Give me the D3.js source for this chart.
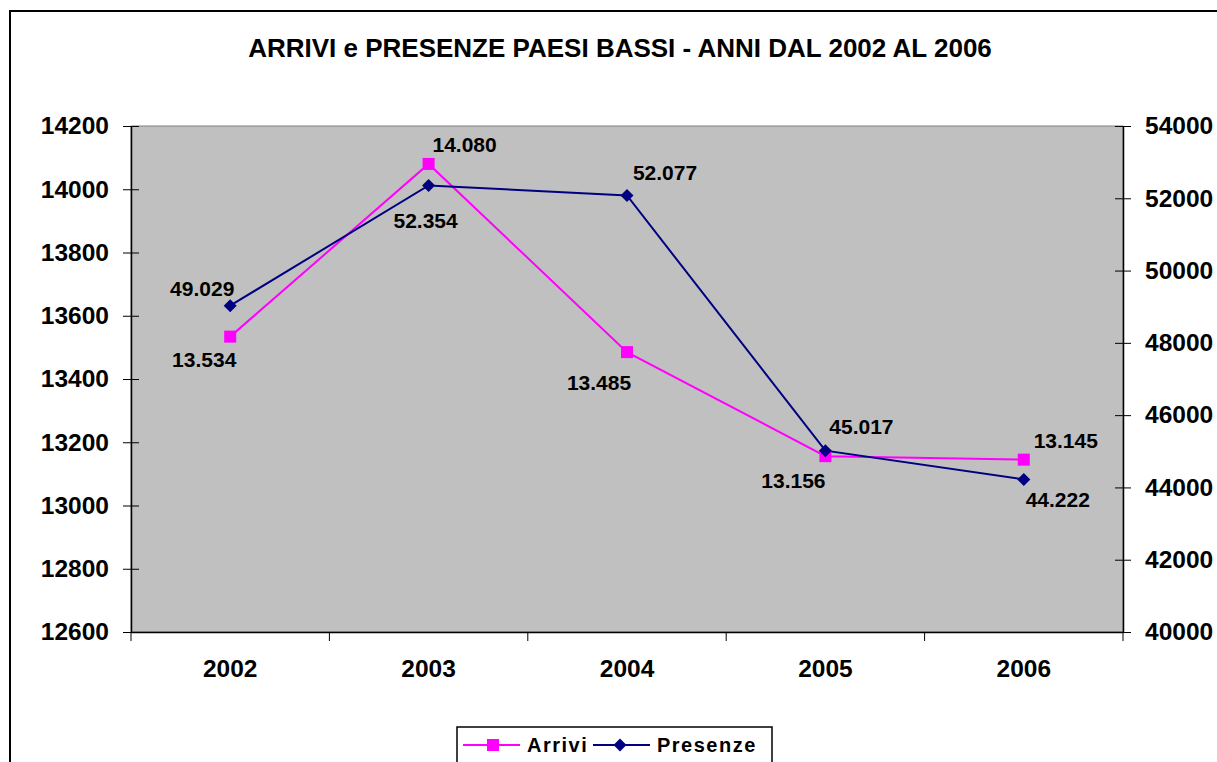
<!DOCTYPE html>
<html>
<head>
<meta charset="utf-8">
<script src="https://cdn.jsdelivr.net/npm/d3@7"></script>
<style>
  html, body { margin: 0; padding: 0; background: #fff; }
  svg { display: block; font-family: "Liberation Sans", Arial, sans-serif; font-weight: bold; }
</style>
</head>
<body>
<svg id="chart" width="1217" height="762"></svg>
<script>
// dati
const anni = ['2002', '2003', '2004', '2005', '2006'];
const arrivi = [13534, 14080, 13485, 13156, 13145];
const presenze = [49029, 52354, 52077, 45017, 44222];
const ticksSx = [12600, 12800, 13000, 13200, 13400, 13600, 13800, 14000, 14200];
const ticksDx = [40000, 42000, 44000, 46000, 48000, 50000, 52000, 54000];
const titolo = 'ARRIVI e PRESENZE PAESI BASSI - ANNI DAL 2002 AL 2006';

// posizione etichette (dx, dy) rispetto al punto
const offArrivi = [[-26, 30], [36, -12], [-28, 38], [-32, 32], [42, -12]];
const offPresenze = [[-28, -10], [-3, 43], [38, -16], [36, -17], [34, 28]];

const M = { left: 131, right: 1123, top: 126, bottom: 632 };
const svg = d3.select('#chart');

// cornice esterna
svg.append('rect').attr('x', 10).attr('y', 11).attr('width', 1230).attr('height', 800)
  .attr('fill', '#fff').attr('stroke', '#000').attr('stroke-width', 2);

svg.append('text').attr('x', 620).attr('y', 57).attr('text-anchor', 'middle')
  .attr('font-size', 26).text(titolo);

const x = d3.scaleBand().domain(anni).range([M.left, M.right]);
const yL = d3.scaleLinear().domain([12600, 14200]).range([M.bottom, M.top]);
const yR = d3.scaleLinear().domain([40000, 54000]).range([M.bottom, M.top]);
const cx = (d) => x(d) + x.bandwidth() / 2;

// area del grafico
svg.append('rect').attr('x', M.left).attr('y', M.top)
  .attr('width', M.right - M.left).attr('height', M.bottom - M.top)
  .attr('fill', '#c0c0c0').attr('stroke', '#808080').attr('stroke-width', 1);

// asse sinistro
const axL = svg.append('g').attr('transform', `translate(${M.left},0)`)
  .call(d3.axisLeft(yL).tickValues(ticksSx).tickSize(8).tickSizeOuter(0).tickPadding(14).tickFormat(d3.format('d')));
axL.selectAll('.tick line').attr('x2', -8).attr('x1', 8);

// asse destro
const axR = svg.append('g').attr('transform', `translate(${M.right},0)`)
  .call(d3.axisRight(yR).tickValues(ticksDx).tickSize(8).tickSizeOuter(0).tickPadding(14).tickFormat(d3.format('d')));
axR.selectAll('.tick line').attr('x1', -8).attr('x2', 8);

// asse x
const axX = svg.append('g').attr('transform', `translate(0,${M.bottom})`)
  .call(d3.axisBottom(x).tickSize(0).tickPadding(28));
axX.selectAll('.tick text').attr('dy', '0.71em');
axX.selectAll('.sep').data(d3.range(anni.length + 1)).join('line')
  .attr('x1', (i) => M.left + i * x.bandwidth()).attr('x2', (i) => M.left + i * x.bandwidth())
  .attr('y1', 0).attr('y2', 9).attr('stroke', '#000');

[axL, axR, axX].forEach((a) => {
  a.attr('font-size', null);
  a.selectAll('.domain').attr('stroke', '#000').attr('stroke-width', 1.5);
  a.selectAll('.tick line').attr('stroke', '#000');
  a.selectAll('text').style('font-size', '24.5px').attr('font-weight', 'bold').attr('fill', '#000')
    .attr('font-family', '"Liberation Sans", Arial, sans-serif');
});

const fmt = (v) => d3.format(',')(v).replace(/,/g, '.');
const rosa = '#ff00ff', blu = '#000080';

// Arrivi
const lineA = d3.line().x((d, i) => cx(anni[i])).y((d) => yL(d));
svg.append('path').attr('d', lineA(arrivi)).attr('fill', 'none').attr('stroke', rosa).attr('stroke-width', 2);

// Presenze
const lineP = d3.line().x((d, i) => cx(anni[i])).y((d) => yR(d));
svg.append('path').attr('d', lineP(presenze)).attr('fill', 'none').attr('stroke', blu).attr('stroke-width', 2);

svg.selectAll('.mA').data(arrivi).join('rect')
  .attr('x', (d, i) => cx(anni[i]) - 6).attr('y', (d) => yL(d) - 6)
  .attr('width', 12).attr('height', 12).attr('fill', rosa);

const diamond = d3.symbol().type(d3.symbolSquare).size(85);
svg.selectAll('.mP').data(presenze).join('path')
  .attr('d', diamond)
  .attr('transform', (d, i) => `translate(${cx(anni[i])},${yR(d)}) rotate(45)`)
  .attr('fill', blu);

// etichette
svg.selectAll('.lA').data(arrivi).join('text')
  .attr('x', (d, i) => cx(anni[i]) + offArrivi[i][0])
  .attr('y', (d, i) => yL(d) + offArrivi[i][1])
  .attr('text-anchor', 'middle').attr('font-size', 21).text(fmt);
svg.selectAll('.lP').data(presenze).join('text')
  .attr('x', (d, i) => cx(anni[i]) + offPresenze[i][0])
  .attr('y', (d, i) => yR(d) + offPresenze[i][1])
  .attr('text-anchor', 'middle').attr('font-size', 21).text(fmt);

// legenda
const lg = svg.append('g');
lg.append('rect').attr('x', 457).attr('y', 727).attr('width', 315).attr('height', 50)
  .attr('fill', '#fff').attr('stroke', '#000').attr('stroke-width', 1.5);
lg.append('line').attr('x1', 463).attr('x2', 520).attr('y1', 745).attr('y2', 745).attr('stroke', rosa).attr('stroke-width', 2);
lg.append('rect').attr('x', 487).attr('y', 739).attr('width', 12).attr('height', 12).attr('fill', rosa);
lg.append('text').attr('x', 527).attr('y', 752).attr('font-size', 20).attr('letter-spacing', 1.5).text('Arrivi');
lg.append('line').attr('x1', 593).attr('x2', 650).attr('y1', 745).attr('y2', 745).attr('stroke', blu).attr('stroke-width', 2);
lg.append('path').attr('d', diamond).attr('transform', 'translate(620,745) rotate(45)').attr('fill', blu);
lg.append('text').attr('x', 657).attr('y', 752).attr('font-size', 20).attr('letter-spacing', 1.5).text('Presenze');
</script>
</body>
</html>
